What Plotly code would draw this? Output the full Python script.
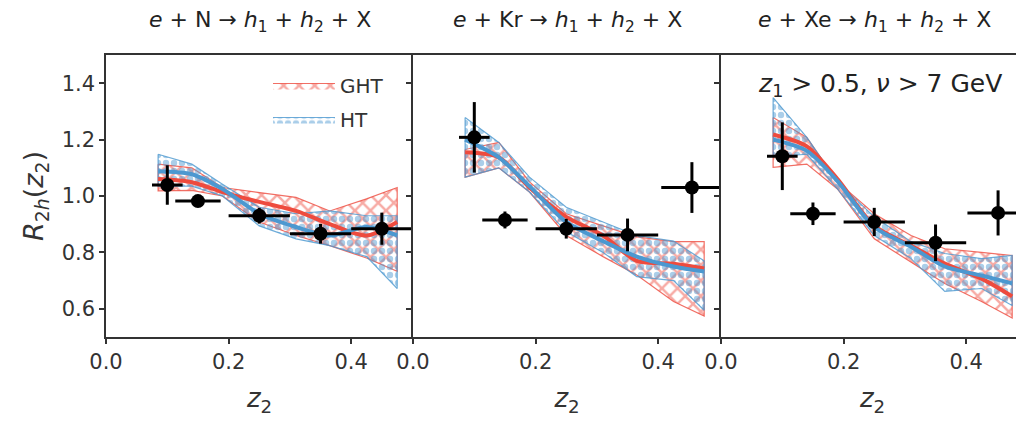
import plotly.graph_objects as go

# ---------------- data ----------------
titles = ["<i>e</i> + N → <i>h</i><sub>1</sub> + <i>h</i><sub>2</sub> + X",
          "<i>e</i> + Kr → <i>h</i><sub>1</sub> + <i>h</i><sub>2</sub> + X",
          "<i>e</i> + Xe → <i>h</i><sub>1</sub> + <i>h</i><sub>2</sub> + X"]

z_theory = [0.085, 0.14, 0.19, 0.25, 0.31, 0.365, 0.425, 0.475]

# GHT (red) band and central curve
ght_up = [[1.113, 1.100, 1.030, 1.012, 0.995, 0.947, 0.990, 1.030],
          [1.165, 1.190, 1.050, 0.937, 0.894, 0.855, 0.838, 0.838],
          [1.278, 1.208, 1.050, 0.937, 0.860, 0.813, 0.800, 0.789]]
ght_lo = [[1.018, 1.020, 1.000, 0.908, 0.860, 0.824, 0.780, 0.733],
          [1.067, 1.100, 1.014, 0.860, 0.785, 0.720, 0.626, 0.574],
          [1.102, 1.113, 1.025, 0.848, 0.767, 0.690, 0.626, 0.567]]
ght_mid = [[1.060, 1.049, 1.014, 0.979, 0.947, 0.900, 0.860, 0.908],
           [1.155, 1.137, 1.030, 0.926, 0.860, 0.770, 0.760, 0.743],
           [1.218, 1.176, 1.060, 0.894, 0.824, 0.760, 0.707, 0.644]]

# HT (blue) band and central curve
ht_up = [[1.148, 1.113, 1.042, 0.960, 0.937, 0.947, 0.930, 0.930],
         [1.278, 1.190, 1.067, 0.960, 0.908, 0.860, 0.840, 0.770],
         [1.349, 1.208, 1.050, 0.926, 0.838, 0.796, 0.778, 0.789]]
ht_lo = [[1.035, 1.035, 1.000, 0.894, 0.848, 0.824, 0.785, 0.672],
         [1.067, 1.100, 1.014, 0.873, 0.800, 0.714, 0.700, 0.595],
         [1.140, 1.148, 1.025, 0.860, 0.778, 0.662, 0.672, 0.612]]
ht_mid = [[1.088, 1.077, 1.025, 0.937, 0.890, 0.860, 0.890, 0.860],
          [1.200, 1.137, 1.035, 0.908, 0.840, 0.785, 0.750, 0.732],
          [1.200, 1.160, 1.053, 0.890, 0.820, 0.750, 0.718, 0.690]]

# data points
z_data = [[0.10, 0.15, 0.25, 0.35, 0.45],
          [0.10, 0.15, 0.25, 0.35, 0.455],
          [0.10, 0.15, 0.25, 0.35, 0.452]]
z_err = [0.025, 0.037, 0.05, 0.05, 0.05]
r_data = [[1.039, 0.982, 0.930, 0.866, 0.884],
          [1.208, 0.915, 0.884, 0.862, 1.030],
          [1.141, 0.937, 0.908, 0.834, 0.940]]
r_err = [[0.070, 0.015, 0.028, 0.035, 0.057],
         [0.125, 0.030, 0.035, 0.058, 0.090],
         [0.120, 0.040, 0.050, 0.065, 0.080]]

x_ticks = [0.0, 0.2, 0.4]
y_ticks = [0.6, 0.8, 1.0, 1.2, 1.4]

RED = "#EE4B3E"
BLUE = "#4C98D0"
AX = "#333333"

OFF = 8  # page body margin of the html page
W, H = 1024 - OFF, 424 - OFF
x_left = [106 - OFF, 413 - OFF, 721 - OFF]
x_right = [413 - OFF, 721 - OFF, 1024 - OFF]
top_px, bot_px = 55 - OFF, 337 - OFF
ppu = 613.0  # pixels per unit of z2

fig = go.Figure()

for i in range(3):
    xa = "x" if i == 0 else f"x{i+1}"
    ya = "y" if i == 0 else f"y{i+1}"
    # GHT band
    fig.add_trace(go.Scatter(
        x=z_theory + z_theory[::-1] + [z_theory[0]],
        y=ght_up[i] + ght_lo[i][::-1] + [ght_up[i][0]],
        fill="toself", mode="lines",
        line=dict(color="rgba(238,75,62,0.8)", width=1.2),
        fillcolor="rgba(0,0,0,0)",
        fillpattern=dict(shape="x", fgcolor="rgba(238,75,62,0.95)",
                         bgcolor="rgba(255,255,255,0)", size=11, solidity=0.4),
        name="GHT", showlegend=(i == 0), legendrank=1, legendgroup="ght",
        xaxis=xa, yaxis=ya, hoverinfo="skip"))
    # HT band
    fig.add_trace(go.Scatter(
        x=z_theory + z_theory[::-1] + [z_theory[0]],
        y=ht_up[i] + ht_lo[i][::-1] + [ht_up[i][0]],
        fill="toself", mode="lines",
        line=dict(color="rgba(76,152,208,0.8)", width=1.2),
        fillcolor="rgba(0,0,0,0)",
        fillpattern=dict(shape=".", fgcolor="rgba(76,152,208,0.95)",
                         bgcolor="rgba(255,255,255,0)", size=8, solidity=0.5),
        name="HT", showlegend=(i == 0), legendrank=2, legendgroup="ht",
        xaxis=xa, yaxis=ya, hoverinfo="skip"))
    # central curves
    fig.add_trace(go.Scatter(
        x=z_theory, y=ght_mid[i], mode="lines",
        line=dict(color=RED, width=4, shape="spline", smoothing=0.8),
        showlegend=False, xaxis=xa, yaxis=ya, hoverinfo="skip"))
    fig.add_trace(go.Scatter(
        x=z_theory, y=ht_mid[i], mode="lines",
        line=dict(color=BLUE, width=4, shape="spline", smoothing=0.8),
        showlegend=False, xaxis=xa, yaxis=ya, hoverinfo="skip"))
    # data
    fig.add_trace(go.Scatter(
        x=z_data[i], y=r_data[i], mode="markers",
        marker=dict(color="black", size=14),
        error_x=dict(type="data", array=z_err, color="black", thickness=3, width=0),
        error_y=dict(type="data", array=r_err[i], color="black", thickness=3, width=0),
        cliponaxis=False, showlegend=False, xaxis=xa, yaxis=ya, hoverinfo="skip"))

layout = dict(
    width=W, height=H,
    margin=dict(l=0, r=0, t=0, b=0, autoexpand=False),
    paper_bgcolor="white", plot_bgcolor="white",
    font=dict(family="DejaVu Sans", color=AX, size=20),
    showlegend=True,
    legend=dict(x=(268 - OFF) / W, y=1 - (66 - OFF) / H, xanchor="left", yanchor="top",
                bgcolor="rgba(0,0,0,0)", font=dict(size=20, color=AX),
                itemwidth=62, tracegroupgap=5),
)

for i in range(3):
    xk = "xaxis" if i == 0 else f"xaxis{i+1}"
    yk = "yaxis" if i == 0 else f"yaxis{i+1}"
    xr = (x_right[i] - x_left[i]) / ppu
    layout[xk] = dict(
        domain=[x_left[i] / W, x_right[i] / W], range=[0, xr],
        anchor="y" if i == 0 else f"y{i+1}", automargin=False,
        tickvals=x_ticks, ticktext=[f"{v:.1f}" for v in x_ticks],
        ticks="outside", ticklen=5, tickwidth=1.5, tickcolor=AX,
        showline=True, linecolor=AX, linewidth=1.5, mirror=True,
        showgrid=False, zeroline=False, tickfont=dict(size=21, color=AX),
        title=dict(text="<i>z</i><sub>2</sub>", font=dict(size=26, color=AX), standoff=16),
    )
    layout[yk] = dict(
        domain=[(H - bot_px) / H, (H - top_px) / H], range=[0.5, 1.5],
        anchor="x" if i == 0 else f"x{i+1}", automargin=False,
        tickvals=y_ticks, ticktext=[f"{v:.1f}" for v in y_ticks],
        ticks="outside", ticklen=5, tickwidth=1.5, tickcolor=AX,
        showline=True, linecolor=AX, linewidth=1.5,
        mirror=False, showticklabels=(i == 0),
        showgrid=False, zeroline=False, tickfont=dict(size=21, color=AX),
    )

layout["yaxis"]["title"] = dict(text="<i>R</i><sub>2<i>h</i></sub>(<i>z</i><sub>2</sub>)",
                                font=dict(size=27, color=AX), standoff=10)

fig.update_layout(**layout)

for i in range(3):
    cx = (x_left[i] + x_right[i]) / 2 / W if i < 2 else (721 - OFF + 1027 - OFF) / 2 / W
    fig.add_annotation(text=titles[i], x=cx, y=1 - (22 - OFF) / H, xref="paper", yref="paper",
                       showarrow=False, font=dict(size=22, color="#222222"),
                       xanchor="center", yanchor="middle", borderpad=0)

fig.add_annotation(text="<i>z</i><sub>1</sub> > 0.5, <i>ν</i> > 7 GeV",
                   x=(880 - OFF) / W, y=1 - (85 - OFF) / H, xref="paper", yref="paper",
                   showarrow=False, font=dict(size=25, color="#222222"),
                   xanchor="center", yanchor="middle")

fig.write_html("out.html")
